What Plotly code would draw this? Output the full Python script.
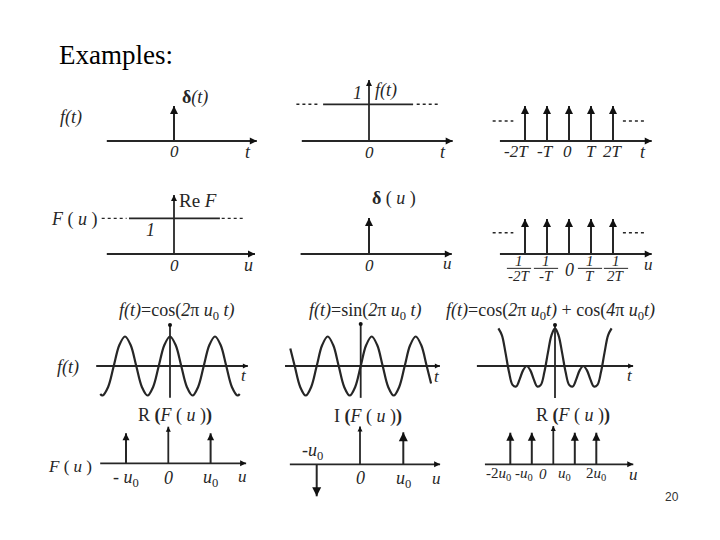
import plotly.graph_objects as go

W, H = 720, 540          # screen size of the reference
OFF = 8                  # default page margin of the html body
FW, FH = W - OFF, H - OFF
INK = "#262626"
SERIF = "Liberation Serif"

# ---------------- data ----------------
# Row 1 : time-domain signals
delta_pos = [0]
delta_amp = [1]
const_level = 1
comb_pos = [-2, -1, 0, 1, 2]
comb_amp = [1, 1, 1, 1, 1]
comb_t_labels = ["<i>-2T</i>", "<i>-T</i>", "<i>0</i>", "<i>T</i>", "<i>2T</i>"]

# Row 2 : their transforms
ref_level = 1
deltau_pos = [0]
deltau_amp = [1]
combu_pos = [-2, -1, 0, 1, 2]
combu_amp = [1, 1, 1, 1, 1]
combu_num = ["<i>1</i>", "<i>1</i>", "", "<i>1</i>", "<i>1</i>"]
combu_den = ["<i>-2T</i>", "<i>-T</i>", "", "<i>T</i>", "<i>2T</i>"]

# Row 3 : waveforms (t measured in periods 1/u0)
cos_t = [-1.55, -1.5, -1.375, -1.25, -1.125, -1, -0.875, -0.75, -0.625, -0.5, -0.375, -0.25, -0.125,
         0, 0.125, 0.25, 0.375, 0.5, 0.625, 0.75, 0.875, 1, 1.125, 1.25, 1.375, 1.5, 1.55]
cos_f = [-0.95, -1, -0.71, 0, 0.71, 1, 0.71, 0, -0.71, -1, -0.71, 0, 0.71,
         1, 0.71, 0, -0.71, -1, -0.71, 0, 0.71, 1, 0.71, 0, -0.71, -1, -0.95]
sin_t = [-1.6, -1.5, -1.375, -1.25, -1.125, -1, -0.875, -0.75, -0.625, -0.5, -0.375, -0.25, -0.125,
         0, 0.125, 0.25, 0.375, 0.5, 0.625, 0.75, 0.875, 1, 1.125, 1.25, 1.375, 1.5, 1.6]
sin_f = [0.59, 0, -0.71, -1, -0.71, 0, 0.71, 1, 0.71, 0, -0.71, -1, -0.71,
         0, 0.71, 1, 0.71, 0, -0.71, -1, -0.71, 0, 0.71, 1, 0.71, 0, -0.59]
sum_t = [-1, -0.9375, -0.875, -0.8125, -0.75, -0.6875, -0.625, -0.5625, -0.5, -0.4375, -0.375,
         -0.3125, -0.25, -0.1875, -0.125, -0.0625, 0, 0.0625, 0.125, 0.1875, 0.25, 0.3125, 0.375,
         0.4375, 0.5, 0.5625, 0.625, 0.6875, 0.75, 0.8125, 0.875, 0.9375, 1]
sum_f = [2, 1.63, 0.71, -0.32, -1, -1.09, -0.71, -0.22, 0, -0.22, -0.71, -1.09, -1, -0.32, 0.71, 1.63,
         2, 1.63, 0.71, -0.32, -1, -1.09, -0.71, -0.22, 0, -0.22, -0.71, -1.09, -1, -0.32, 0.71, 1.63, 2]

# Row 4 : spectra (u measured in u0)
U0 = "<i>u</i><sub>0</sub>"
cos_spec_pos = [-1, 1]
cos_spec_amp = [1, 1]
cos_spec_ticks = [-1, 0, 1]
cos_spec_labels = ["- " + U0, "<i>0</i>", U0]
sin_spec_pos = [-1, 1]
sin_spec_amp = [-1, 1]
sum_spec_pos = [-2, -1, 1, 2]
sum_spec_amp = [1, 1, 1, 1]
sum_spec_ticks = [-2, -1, 0, 1, 2]
sum_spec_labels = ["-2" + U0, "-" + U0, "<i>0</i>", U0, "2" + U0]

# label nudges (pixels) — layout only
comb_t_nudge = [-9, -2, -2, 0, 0]
combu_nudge = [-6, -1, 0, -1, 3]
sum_spec_nudge = [-12, -8, -10, -10, 0]

# ---------------- figure helpers ----------------
fig = go.Figure()


def setup(i, box, origin, sx, sy):
    l, t, r, b = box
    ox, oy = origin
    n = "" if i == 1 else str(i)
    fig.update_layout(**{
        "xaxis" + n: dict(domain=[(l - OFF) / FW, (r - OFF) / FW], range=[(l - ox) / sx, (r - ox) / sx],
                          visible=False, fixedrange=True, anchor="y" + n),
        "yaxis" + n: dict(domain=[1 - (b - OFF) / FH, 1 - (t - OFF) / FH],
                          range=[(oy - b) / sy, (oy - t) / sy],
                          visible=False, fixedrange=True, anchor="x" + n),
    })
    return ("x" + n, "y" + n)


def line(ax, xs, ys, width=2.0, dash=None, shape="linear", color=INK):
    fig.add_trace(go.Scatter(x=xs, y=ys, mode="lines", xaxis=ax[0], yaxis=ax[1],
                             line=dict(color=color, width=width, dash=dash, shape=shape,
                                       smoothing=1.0 if shape == "spline" else None),
                             hoverinfo="skip", showlegend=False))


def heads(ax, xs, ys, symbols, size, color="#111111"):
    fig.add_trace(go.Scatter(x=xs, y=ys, mode="markers", xaxis=ax[0], yaxis=ax[1],
                             marker=dict(symbol=symbols, size=size, color=color, line=dict(width=0)),
                             cliponaxis=False, hoverinfo="skip", showlegend=False))


def impulses(ax, pos, amp, size=8):
    xs, ys = [], []
    for p, a in zip(pos, amp):
        xs += [p, p, None]
        ys += [0, a, None]
    line(ax, xs, ys, width=2)
    heads(ax, pos, amp, ["arrow-up" if a > 0 else "arrow-down" for a in amp], size)


def haxis(ax, x0, x1, size=7):
    line(ax, [x0, x1], [0, 0], width=1.8)
    heads(ax, [x1], [0], ["arrow-right"], size)


def vaxis(ax, y0, y1, size=6, symbol="arrow-up"):
    line(ax, [0, 0], [y0, y1], width=1.8)
    heads(ax, [0], [y1], [symbol], size)


def text(s, x, y, size=18, xanchor="center", family=SERIF, color=INK):
    fig.add_annotation(text=s, x=(x - OFF) / FW, y=1 - (y - OFF) / FH, xref="paper", yref="paper",
                       showarrow=False, xanchor=xanchor, yanchor="middle",
                       font=dict(family=family, size=size, color=color))


def tick(ax, x, s, dy, size=17, dx=0):
    fig.add_annotation(text=s, x=x, y=0, xref=ax[0], yref=ax[1], showarrow=False,
                       yshift=-dy, xshift=dx, xanchor="center", yanchor="middle",
                       font=dict(family=SERIF, size=size, color=INK))


# ---------------- Row 1 ----------------
a1 = setup(1, (48, 72, 270, 165), (174, 141), 30, 35)
haxis(a1, -2.24, 2.76)
impulses(a1, delta_pos, delta_amp)
tick(a1, 0, "<i>0</i>", 10)
text("<i>f(t)</i>", 71, 117)
text("<b>δ</b><i>(t)</i>", 195, 97)
text("<i>t</i>", 248, 152)

a2 = setup(2, (280, 72, 468, 165), (369, 141), 30, 36.7)
haxis(a2, -2.24, 2.79)
vaxis(a2, 0, 1.66, 6)
line(a2, [-1.53, 1.47], [const_level, const_level], width=1.8)
line(a2, [-2.42, -1.63, None, 1.59, 2.37], [const_level, const_level, None, const_level, const_level],
     width=1.5, dash="3px,3px")
tick(a2, 0, "<i>0</i>", 11)
text("<i>1</i>", 357, 93)
text("<i>f(t)</i>", 386, 91)
text("<i>t</i>", 443, 152)

a3 = setup(3, (480, 72, 700, 165), (569, 141), 22, 35)
haxis(a3, -3.14, 3.76)
impulses(a3, comb_pos, comb_amp)
line(a3, [-3.47, -2.53, None, 2.45, 3.53], [0.57, 0.57, None, 0.57, 0.57], width=1.5, dash="3px,3px")
for p, s, d in zip(comb_pos, comb_t_labels, comb_t_nudge):
    tick(a3, p, s, 10, 17, d)
text("<i>t</i>", 643, 152)

# ---------------- Row 2 ----------------
a4 = setup(4, (48, 180, 270, 285), (174, 254), 30, 35.7)
haxis(a4, -2.24, 2.7)
vaxis(a4, 0, 1.65, 6)
line(a4, [-1.5, 1.53], [ref_level, ref_level], width=1.8)
line(a4, [-2.41, -1.58, None, 1.59, 2.37], [ref_level, ref_level, None, ref_level, ref_level],
     width=1.3, dash="3px,3px")
tick(a4, 0, "<i>0</i>", 11)
text("<i>F</i> ( <i>u</i> )", 74, 219)
text("Re <i>F</i>", 198, 201, 19)
text("<i>1</i>", 150, 230)
text("<i>u</i>", 248, 265)

a5 = setup(5, (280, 180, 468, 285), (369, 254), 30, 36)
haxis(a5, -2.28, 2.76)
impulses(a5, deltau_pos, deltau_amp)
tick(a5, 0, "<i>0</i>", 11)
text("<b>δ</b> ( <i>u</i> )", 394, 198)
text("<i>u</i>", 448, 263, 17)

a6 = setup(6, (480, 180, 700, 285), (569, 254), 22, 35)
haxis(a6, -3.14, 3.76)
impulses(a6, combu_pos, combu_amp)
line(a6, [-3.47, -2.53, None, 2.45, 3.53], [0.61, 0.61, None, 0.61, 0.61], width=1.5, dash="3px,3px")
for p, n_, d_, dx in zip(combu_pos, combu_num, combu_den, combu_nudge):
    if n_:
        tick(a6, p, n_, 7, 15, dx)
        tick(a6, p, d_, 22, 15, dx)
        c = p + dx / 22
        fig.add_shape(type="line", xref=a6[0], yref=a6[1], x0=c - 0.55, x1=c + 0.55,
                      y0=-0.41, y1=-0.41, line=dict(color=INK, width=1))
    else:
        tick(a6, p, "<i>0</i>", 16, 18, dx)
text("<i>u</i>", 648, 264, 17)

# ---------------- Row 3 ----------------
a7 = setup(7, (60, 316, 272, 405), (170, 366), 45, 29.5)
haxis(a7, -1.64, 1.73, 5)
line(a7, [0, 0], [-1.08, 1.39], width=1.8)
heads(a7, [0], [1.39], ["circle"], 4)
line(a7, cos_t, cos_f, width=2.2, shape="spline")
text("<i>f(t)</i>=cos(<i>2</i>π " + U0 + " <i>t)</i>", 177, 311, 18)
text("<i>f(t)</i>", 68, 367)
text("<i>t</i>", 244, 375, 17)

a8 = setup(8, (278, 316, 462, 405), (360.7, 366), 44, 29.5)
haxis(a8, -1.72, 1.80, 5)
line(a8, [0, 0], [-1.08, 1.42], width=1.8)
heads(a8, [0], [1.42], ["circle"], 4)
line(a8, sin_t, sin_f, width=2.2, shape="spline")
text("<i>f(t)</i>=sin(<i>2</i>π " + U0 + " <i>t)</i>", 365, 311, 18)
text("<i>t</i>", 437, 376, 17)

a9 = setup(9, (468, 316, 700, 405), (555, 366), 56.6, 18.85)
haxis(a9, -1.38, 1.38, 5)
line(a9, [0, 0], [-1.7, 2.18], width=1.8)
heads(a9, [0], [2.18], ["circle"], 4)
line(a9, sum_t, sum_f, width=2.2, shape="spline")
text("<i>f(t)</i>=cos(<i>2</i>π " + U0 + "<i>t)</i> + cos(<i>4</i>π " + U0 + "<i>t)</i>",
     550, 311, 18)
text("<i>t</i>", 630, 375, 17)

# ---------------- Row 4 ----------------
RF = "R<b> (</b><i>F</i> ( <i>u</i> )<b>)</b>"
IF = "I<b> (</b><i>F</i> ( <i>u</i> )<b>)</b>"

a10 = setup(10, (48, 405, 270, 512), (168.3, 463.3), 42.3, 30)
haxis(a10, -1.61, 1.84, 6)
vaxis(a10, 0, 1.22, 5)
impulses(a10, cos_spec_pos, cos_spec_amp, 7)
for p, s in zip(cos_spec_ticks, cos_spec_labels):
    tick(a10, p, s, 15, 18)
text(RF, 175, 415, 18)
text("<i>F</i> ( <i>u</i> )", 70, 466, 17)
text("<i>u</i>", 242, 476, 17)

a11 = setup(11, (280, 405, 468, 512), (360, 464.3), 43.3, 32)
haxis(a11, -1.62, 1.85, 6)
vaxis(a11, 0, 1.18, 5)
impulses(a11, sin_spec_pos, sin_spec_amp, 9)
tick(a11, 0, "<i>0</i>", 14, 18)
tick(a11, 1, U0, 15, 18)
tick(a11, -1, "-" + U0, -13, 18, -4)
text(IF, 368, 416, 18)
text("<i>u</i>", 437, 478, 17)

a12 = setup(12, (475, 405, 700, 512), (553.3, 464.3), 21.5, 31.6)
haxis(a12, -3.18, 3.72, 6)
vaxis(a12, 0, 1.21, 5)
impulses(a12, sum_spec_pos, sum_spec_amp, 8)
for p, s, d in zip(sum_spec_ticks, sum_spec_labels, sum_spec_nudge):
    tick(a12, p, s, 10, 15, d)
text(RF, 573, 415, 18)
text("<i>u</i>", 633, 474, 17)

# ---------------- page text ----------------
text("Examples:", 57, 55, 27, xanchor="left", color="#000000")
text("20", 672, 497, 12, family="Liberation Sans", color="#333333")

fig.update_layout(width=FW, height=FH, margin=dict(l=0, r=0, t=0, b=0),
                  paper_bgcolor="white", plot_bgcolor="rgba(0,0,0,0)", showlegend=False)

fig.write_html("out.html")
